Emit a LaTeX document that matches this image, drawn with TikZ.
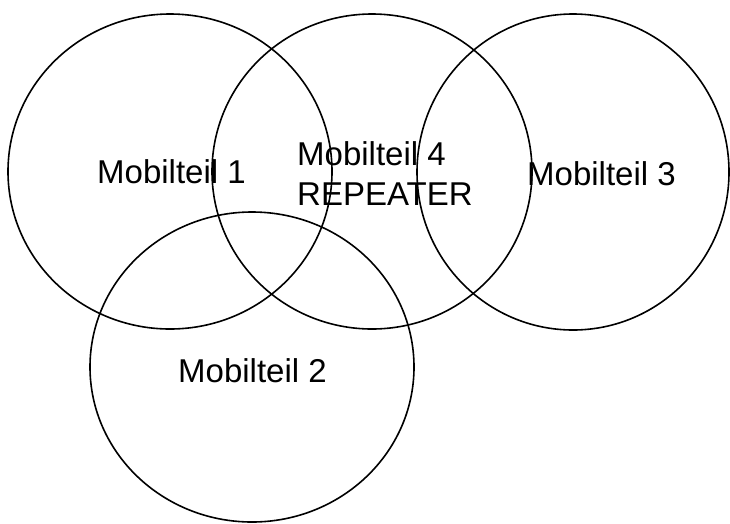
\documentclass[tikz,border=0pt]{standalone}
\usepackage{fontspec}
\setmainfont{Liberation Sans}
\begin{document}
\begin{tikzpicture}[x=1pt,y=-1pt,
  zone/.style={draw=black,line width=1.6pt},
  lbl/.style={anchor=base west,inner sep=0pt,font=\fontsize{33}{39}\selectfont}]
\useasboundingbox (0,0) rectangle (730,523);
\draw[zone] (170,171.5) ellipse [x radius=162, y radius=157.5];
\draw[zone] (372,171.5) ellipse [x radius=160, y radius=157.5];
\draw[zone] (573,172) ellipse [x radius=156, y radius=158];
\draw[zone] (252,367) ellipse [x radius=162, y radius=155];
\node[lbl] (m1) at (97,183) {Mobilteil 1};
\node[lbl] (m4) at (297,165) {Mobilteil 4};
\node[lbl] (rep) at (297,205) {REPEATER};
\node[lbl] (m3) at (527,185) {Mobilteil 3};
\node[lbl] (m2) at (178,382) {Mobilteil 2};
\end{tikzpicture}
\end{document}
